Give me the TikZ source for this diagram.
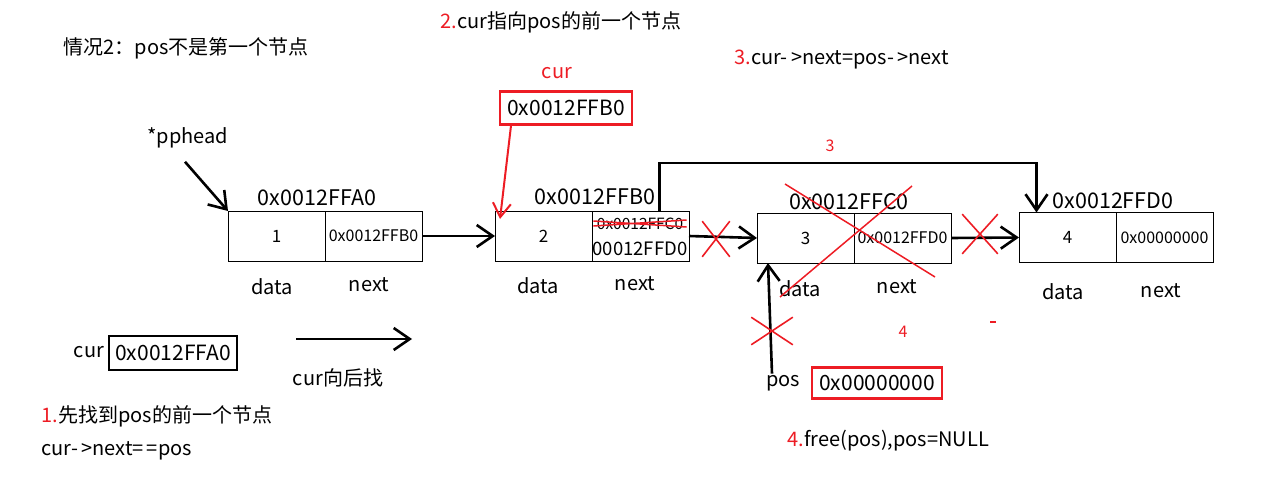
\documentclass[tikz,border=0pt]{standalone}
\usepackage{fontspec}
\setmainfont{Noto Sans CJK SC}
\usetikzlibrary{arrows.meta,positioning,shapes.misc}
\definecolor{xred}{RGB}{237,28,36}
\tikzset{
  cell/.style={draw, line width=0.9pt, minimum width=97pt, minimum height=50pt,
    inner sep=0pt, outer sep=0pt, font=\fontsize{16}{16}\selectfont},
  addr/.style={font=\fontsize{21.5}{21.5}\selectfont},
  lbl/.style={font=\fontsize{20}{20}\selectfont},
  link/.style={line width=2.6pt, -{Straight Barb[length=16pt,width=22pt]}},
  xmark/.style={draw=xred, cross out, line width=1.6pt, minimum width=34pt,
    minimum height=38pt, inner sep=0pt},
  membox/.style={draw, line width=2.5pt, inner sep=2pt, minimum height=33pt,
    font=\fontsize{21}{21}\selectfont},
}
\begin{document}
\begin{tikzpicture}[x=1pt,y=-1pt]
  \useasboundingbox (0,0) rectangle (1261,495);
  % headings
  \node[lbl, anchor=west] (case) at (60,48) {情况2：pos不是第一个节点};
  \node[lbl, anchor=west] (step2) at (437,22) {\textcolor{xred}{2.}cur指向pos的前一个节点};
  \node[lbl, anchor=west] (step3) at (731,60) {\textcolor{xred}{3.}cur-\,>next=pos-\,>next};
  % node 1
  \node[cell] (d1) at (276.5,236) {\fontsize{17}{17}\selectfont 1};
  \node[cell, right=0pt of d1] (n1) {0x0012FFB0};
  \node[addr] (a1) at (317,198) {0x0012FFA0};
  \node[lbl] (dl1) at (272,287) {data};
  \node[lbl] (nl1) at (369,285) {next};
  % node 2
  \node[cell] (d2) at (543.5,236) {\fontsize{17}{17}\selectfont 2};
  \node[cell, right=0pt of d2] (n2) {};
  \node[font=\fontsize{15.5}{15.5}\selectfont] (old2) at (640,224) {0x0012FFC0};
  \node[font=\fontsize{18.5}{18.5}\selectfont] (new2) at (640,249) {00012FFD0};
  \draw[xred, line width=1.5pt] ([yshift=-2pt]old2.west) -- ([yshift=4pt]old2.east)
    ([yshift=3pt]old2.west) -- ([yshift=-3pt]old2.east);
  \node[addr] (a2) at (595,197) {0x0012FFB0};
  \node[lbl] (dl2) at (538,286) {data};
  \node[lbl] (nl2) at (635,284) {next};
  % node 3
  \node[cell] (d3) at (805.5,238) {\fontsize{17}{17}\selectfont 3};
  \node[cell, right=0pt of d3] (n3) {0x0012FFD0};
  \node[addr] (a3) at (849,202) {0x0012FFC0};
  \node[lbl] (dl3) at (800,289) {data};
  \node[lbl] (nl3) at (897,287) {next};
  % node 4
  \node[cell] (d4) at (1067.5,237.5) {\fontsize{17}{17}\selectfont 4};
  \node[cell, right=0pt of d4] (n4) {0x00000000};
  \node[addr] (a4) at (1113,201) {0x0012FFD0};
  \node[lbl] (dl4) at (1063,292) {data};
  \node[lbl] (nl4) at (1161,291) {next};
  % links
  \draw[link] (n1.east) -- (d2.west);
  \draw[link] (n2.east) -- (d3.west);
  \draw[link] (n3.east) -- (d4.west);
  \draw[link] ([xshift=19pt]n2.north) -- ++(0,-48) -| ([xshift=-31pt]d4.north);
  \node[font=\fontsize{16}{16}\selectfont, text=xred] (k3) at (830,146) {3};
  \node[xmark, minimum width=26pt, minimum height=34pt] (x23) at (716,239) {};
  \node[xmark] (x34) at (980,234) {};
  % node 3 removed
  \draw[xred, line width=1.5pt] (785,184) -- (935,277);
  \draw[xred, line width=1.5pt] (912,186) -- (780,297);
  % head pointer
  \node[lbl] (pphead) at (188,138) {*pphead};
  \draw[link] ([xshift=-3pt,yshift=-10pt]pphead.south) -- (d1.north west);
  % cur after step 2
  \node[lbl, text=xred] (curt) at (557,73) {cur};
  \node[membox, draw=xred, minimum width=132pt] (curb) at (566,108) {0x0012FFB0};
  \draw[xred, line width=2pt, -{Straight Barb[length=14pt,width=18pt]}]
    ([xshift=-55pt]curb.south) -- ([xshift=5pt,yshift=-8pt]d2.north west);
  % pos
  \node[lbl] (pos) at (783,383) {pos};
  \node[membox, draw=xred, minimum width=130pt, minimum height=31pt] (posb) at (877,383) {0x00000000};
  \draw[link] ([xshift=-11pt,yshift=-2pt]pos.north) -- ([xshift=11pt]d3.south west);
  \node[xmark, minimum width=40pt, minimum height=26pt] (xpos) at (772,331) {};
  \node[font=\fontsize{16}{16}\selectfont, text=xred] (k4) at (903,332) {4};
  \draw[xred, line width=2pt] (990,322) -- (996,322);
  \node[lbl, anchor=west] (step4) at (784,441) {\textcolor{xred}{4.}free(pos),pos=NULL};
  % cur at start
  \node[lbl] (curl) at (89,352) {cur};
  \node[membox, minimum width=128pt, minimum height=34pt] (cura) at (173,353) {0x0012FFA0};
  \coordinate (walk0) at (296,339);
  \coordinate (walk1) at (412,339);
  \draw[link] (walk0) -- (walk1);
  \node[lbl] (walk) at (338,378) {cur向后找};
  \node[lbl, anchor=west] (step1) at (38,416) {\textcolor{xred}{1.}先找到pos的前一个节点};
  \node[lbl, anchor=west] (cond) at (38,451) {cur-\,>next=\,=pos};
\end{tikzpicture}
\end{document}
